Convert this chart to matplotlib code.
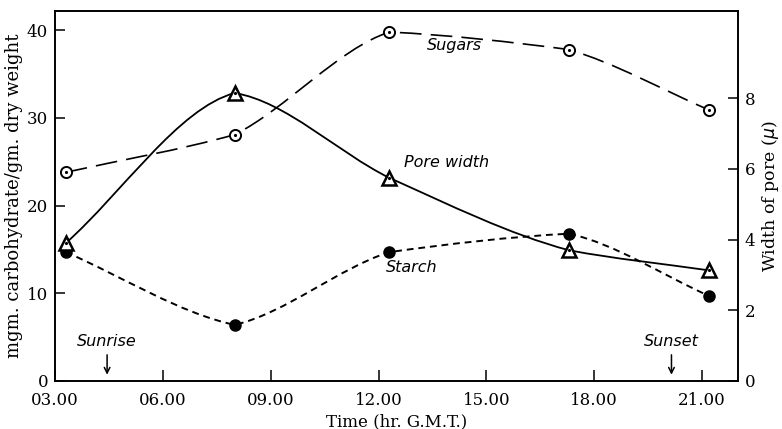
import matplotlib.pyplot as plt
import numpy as np
from matplotlib.path import Path
from matplotlib.patches import PathPatch

# sampling times (hr. G.M.T.)
hours = [3.3, 8.0, 12.3, 17.3, 21.2]
sugars = [23.8, 28.1, 39.8, 37.8, 30.9]
starch = [14.7, 6.4, 14.7, 16.8, 9.7]
pore_width = [3.9, 8.15, 5.75, 3.7, 3.13]

xticks = [3, 6, 9, 12, 15, 18, 21]
xtick_labels = ['03.00', '06.00', '09.00', '12.00', '15.00', '18.00', '21.00']
sunrise = 4.45
sunset = 20.15


def smooth_path(x, y, a=0.5):
    # hand-drawn look: monotone cubic tangents blended with the segment slopes
    x = np.asarray(x, float)
    y = np.asarray(y, float)
    h = np.diff(x)
    d = np.diff(y) / h
    m = np.zeros_like(y)
    for i in range(1, len(y) - 1):
        if d[i - 1] * d[i] > 0:
            w1 = 2 * h[i] + h[i - 1]
            w2 = h[i] + 2 * h[i - 1]
            m[i] = (w1 + w2) / (w1 / d[i - 1] + w2 / d[i])
    m[0] = d[0]
    m[-1] = d[-1]
    verts = [(x[0], y[0])]
    codes = [Path.MOVETO]
    for i in range(len(x) - 1):
        m_out = m[i] if i == 0 else (1 - a) * d[i] + a * m[i]
        m_in = m[i + 1] if i == len(x) - 2 else (1 - a) * d[i] + a * m[i + 1]
        verts += [(x[i] + h[i] / 3, y[i] + m_out * h[i] / 3),
                  (x[i + 1] - h[i] / 3, y[i + 1] - m_in * h[i] / 3),
                  (x[i + 1], y[i + 1])]
        codes += [Path.CURVE4] * 3
    return Path(verts, codes)


serif = 'DejaVu Serif'
fig = plt.figure(figsize=(7.82, 4.29), dpi=100)
ax = fig.add_axes([0.0703, 0.1119, 0.8734, 0.8625])
ax2 = ax.twinx()

ax.set_xlim(3, 22)
ax.set_ylim(0, 42.2)
ax2.set_ylim(0, 42.2 / 4.03)

# sugars: long dashes
ax.add_patch(PathPatch(smooth_path(hours, sugars), fill=False, color='black',
                       lw=1.2, linestyle=(0, (13, 5.5))))
ax.plot(hours, sugars, 'o', ms=8, mfc='white', mec='black', mew=1.4, zorder=5)
ax.plot(hours, sugars, '.', ms=2.5, color='black', zorder=6)

# starch: short dashes
ax.add_patch(PathPatch(smooth_path(hours, starch), fill=False, color='black',
                       lw=1.4, linestyle=(0, (3.5, 2.5))))
ax.plot(hours, starch, 'o', ms=8, color='black', zorder=5)

# pore width: solid, right axis
ax2.add_patch(PathPatch(smooth_path(hours, pore_width, a=0.7), fill=False,
                        color='black', lw=1.3))
ax2.plot(hours, pore_width, '^', ms=10, mfc='white', mec='black', mew=1.8, zorder=5)
ax2.plot(hours, pore_width, '.', ms=2.5, color='black', zorder=6)

ann = dict(fontsize=11.5, style='italic', family='DejaVu Sans')
ax.text(13.35, 38.3, 'Sugars', va='center', **ann)
ax.text(12.7, 24.9, 'Pore width', va='center', **ann)
ax.text(12.2, 13.0, 'Starch', va='center', **ann)
ax.text(sunrise, 4.5, 'Sunrise', ha='center', va='center', **ann)
ax.text(sunset, 4.5, 'Sunset', ha='center', va='center', **ann)
ax.annotate('', xy=(sunrise, 0.4), xytext=(sunrise, 3.3),
            arrowprops=dict(arrowstyle='->', color='black', lw=1.1))
ax.annotate('', xy=(sunset, 0.4), xytext=(sunset, 3.3),
            arrowprops=dict(arrowstyle='->', color='black', lw=1.1))

ax.set_xticks(xticks)
ax.set_xticklabels(xtick_labels)
ax.set_yticks([0, 10, 20, 30, 40])
ax2.set_yticks([0, 2, 4, 6, 8])
ax.tick_params(axis='x', direction='in', length=8, width=1.1,
               labelsize=12, pad=8)
ax.tick_params(axis='y', direction='in', length=7, width=1.1,
               labelsize=12, pad=5)
ax2.tick_params(axis='y', direction='in', length=7, width=1.1,
                labelsize=12, pad=5)
for lab in ax.get_xticklabels() + ax.get_yticklabels() + ax2.get_yticklabels():
    lab.set_family(serif)

for a in (ax, ax2):
    for s in a.spines.values():
        s.set_linewidth(1.2)

ax.set_xlabel('Time (hr. G.M.T.)', family=serif, fontsize=12, labelpad=3)
ax.set_ylabel('mgm. carbohydrate/gm. dry weight', family=serif, fontsize=13,
              labelpad=3)
ax2.set_ylabel('Width of pore ($\\mu$)', family=serif, fontsize=12.5, labelpad=3)

fig.savefig('out.png', dpi=100)
